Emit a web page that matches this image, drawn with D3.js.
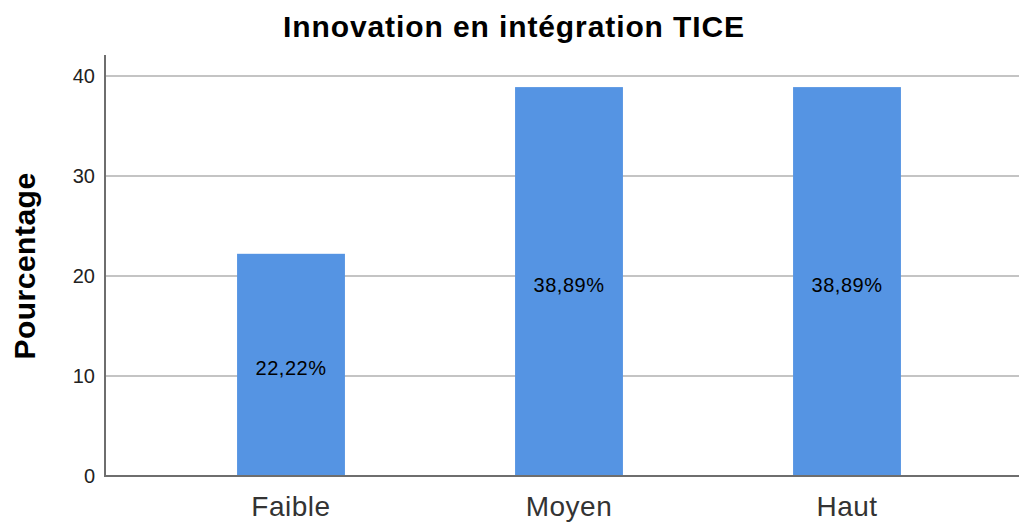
<!DOCTYPE html>
<html>
<head>
<meta charset="utf-8">
<script src="https://cdn.jsdelivr.net/npm/d3@7"></script>
<style>
  body { margin: 0; background: #fff; }
  text { font-family: "Liberation Sans", Arial, sans-serif; }
</style>
</head>
<body>
<div id="chart"></div>
<script>
const categories = ["Faible", "Moyen", "Haut"];
const values = [22.22, 38.89, 38.89];
const yTicks = [0, 10, 20, 30, 40];

const width = 1019;
const height = 522;

const svg = d3.select("#chart")
  .append("svg")
  .attr("width", width)
  .attr("height", height);

// plot frame
const plotLeft = 105, plotRight = 1019, plotTop = 55, plotBottom = 476;

const y = d3.scaleLinear()
  .domain([0, 40])
  .range([plotBottom, 76]);

const x = d3.scaleBand()
  .domain(categories)
  .range([152, 986])
  .paddingInner(0.612)
  .paddingOuter(0.306);

// gridlines
svg.selectAll("line.grid")
  .data(yTicks.filter(d => d > 0))
  .enter()
  .append("line")
  .attr("class", "grid")
  .attr("x1", plotLeft)
  .attr("x2", plotRight)
  .attr("y1", d => y(d))
  .attr("y2", d => y(d))
  .style("stroke", "#c4c4c4")
  .style("stroke-width", 2);

// bars
svg.selectAll("rect.bar")
  .data(values)
  .enter()
  .append("rect")
  .attr("class", "bar")
  .attr("x", (d, i) => x(categories[i]))
  .attr("y", d => y(d))
  .attr("width", x.bandwidth())
  .attr("height", d => y(0) - y(d))
  .style("fill", "#5594e3");

// bar labels
svg.selectAll("text.barlabel")
  .data(values)
  .enter()
  .append("text")
  .attr("class", "barlabel")
  .attr("x", (d, i) => x(categories[i]) + x.bandwidth() / 2)
  .attr("y", d => y(d / 2) + 10)
  .attr("text-anchor", "middle")
  .style("font-size", "20px")
  .style("letter-spacing", "0.5px")
  .style("fill", "#000")
  .text(d => d.toFixed(2).replace(".", ",") + "%");

// axes lines
svg.append("line")
  .attr("x1", plotLeft).attr("x2", plotLeft)
  .attr("y1", plotTop).attr("y2", plotBottom)
  .style("stroke", "#6e6e6e")
  .style("stroke-width", 2);

svg.append("line")
  .attr("x1", plotLeft - 1).attr("x2", plotRight)
  .attr("y1", plotBottom).attr("y2", plotBottom)
  .style("stroke", "#6e6e6e")
  .style("stroke-width", 2);

// y tick labels
svg.selectAll("text.ytick")
  .data(yTicks)
  .enter()
  .append("text")
  .attr("class", "ytick")
  .attr("x", 95)
  .attr("y", d => y(d) + 7)
  .attr("text-anchor", "end")
  .style("font-size", "20px")
  .style("fill", "#222")
  .text(d => d);

// x category labels
svg.selectAll("text.xtick")
  .data(categories)
  .enter()
  .append("text")
  .attr("class", "xtick")
  .attr("x", d => x(d) + x.bandwidth() / 2)
  .attr("y", 516)
  .attr("text-anchor", "middle")
  .style("font-size", "28px")
  .style("letter-spacing", "0.5px")
  .style("fill", "#333")
  .text(d => d);

// y axis title
svg.append("text")
  .attr("transform", "translate(35,266) rotate(-90)")
  .attr("text-anchor", "middle")
  .style("font-size", "30px")
  .style("font-weight", "bold")
  .style("letter-spacing", "0.5px")
  .style("fill", "#000")
  .text("Pourcentage");

// chart title
svg.append("text")
  .attr("x", 514)
  .attr("y", 37)
  .attr("text-anchor", "middle")
  .style("font-size", "30px")
  .style("font-weight", "bold")
  .style("letter-spacing", "0.9px")
  .style("fill", "#000")
  .text("Innovation en intégration TICE");
</script>
</body>
</html>
